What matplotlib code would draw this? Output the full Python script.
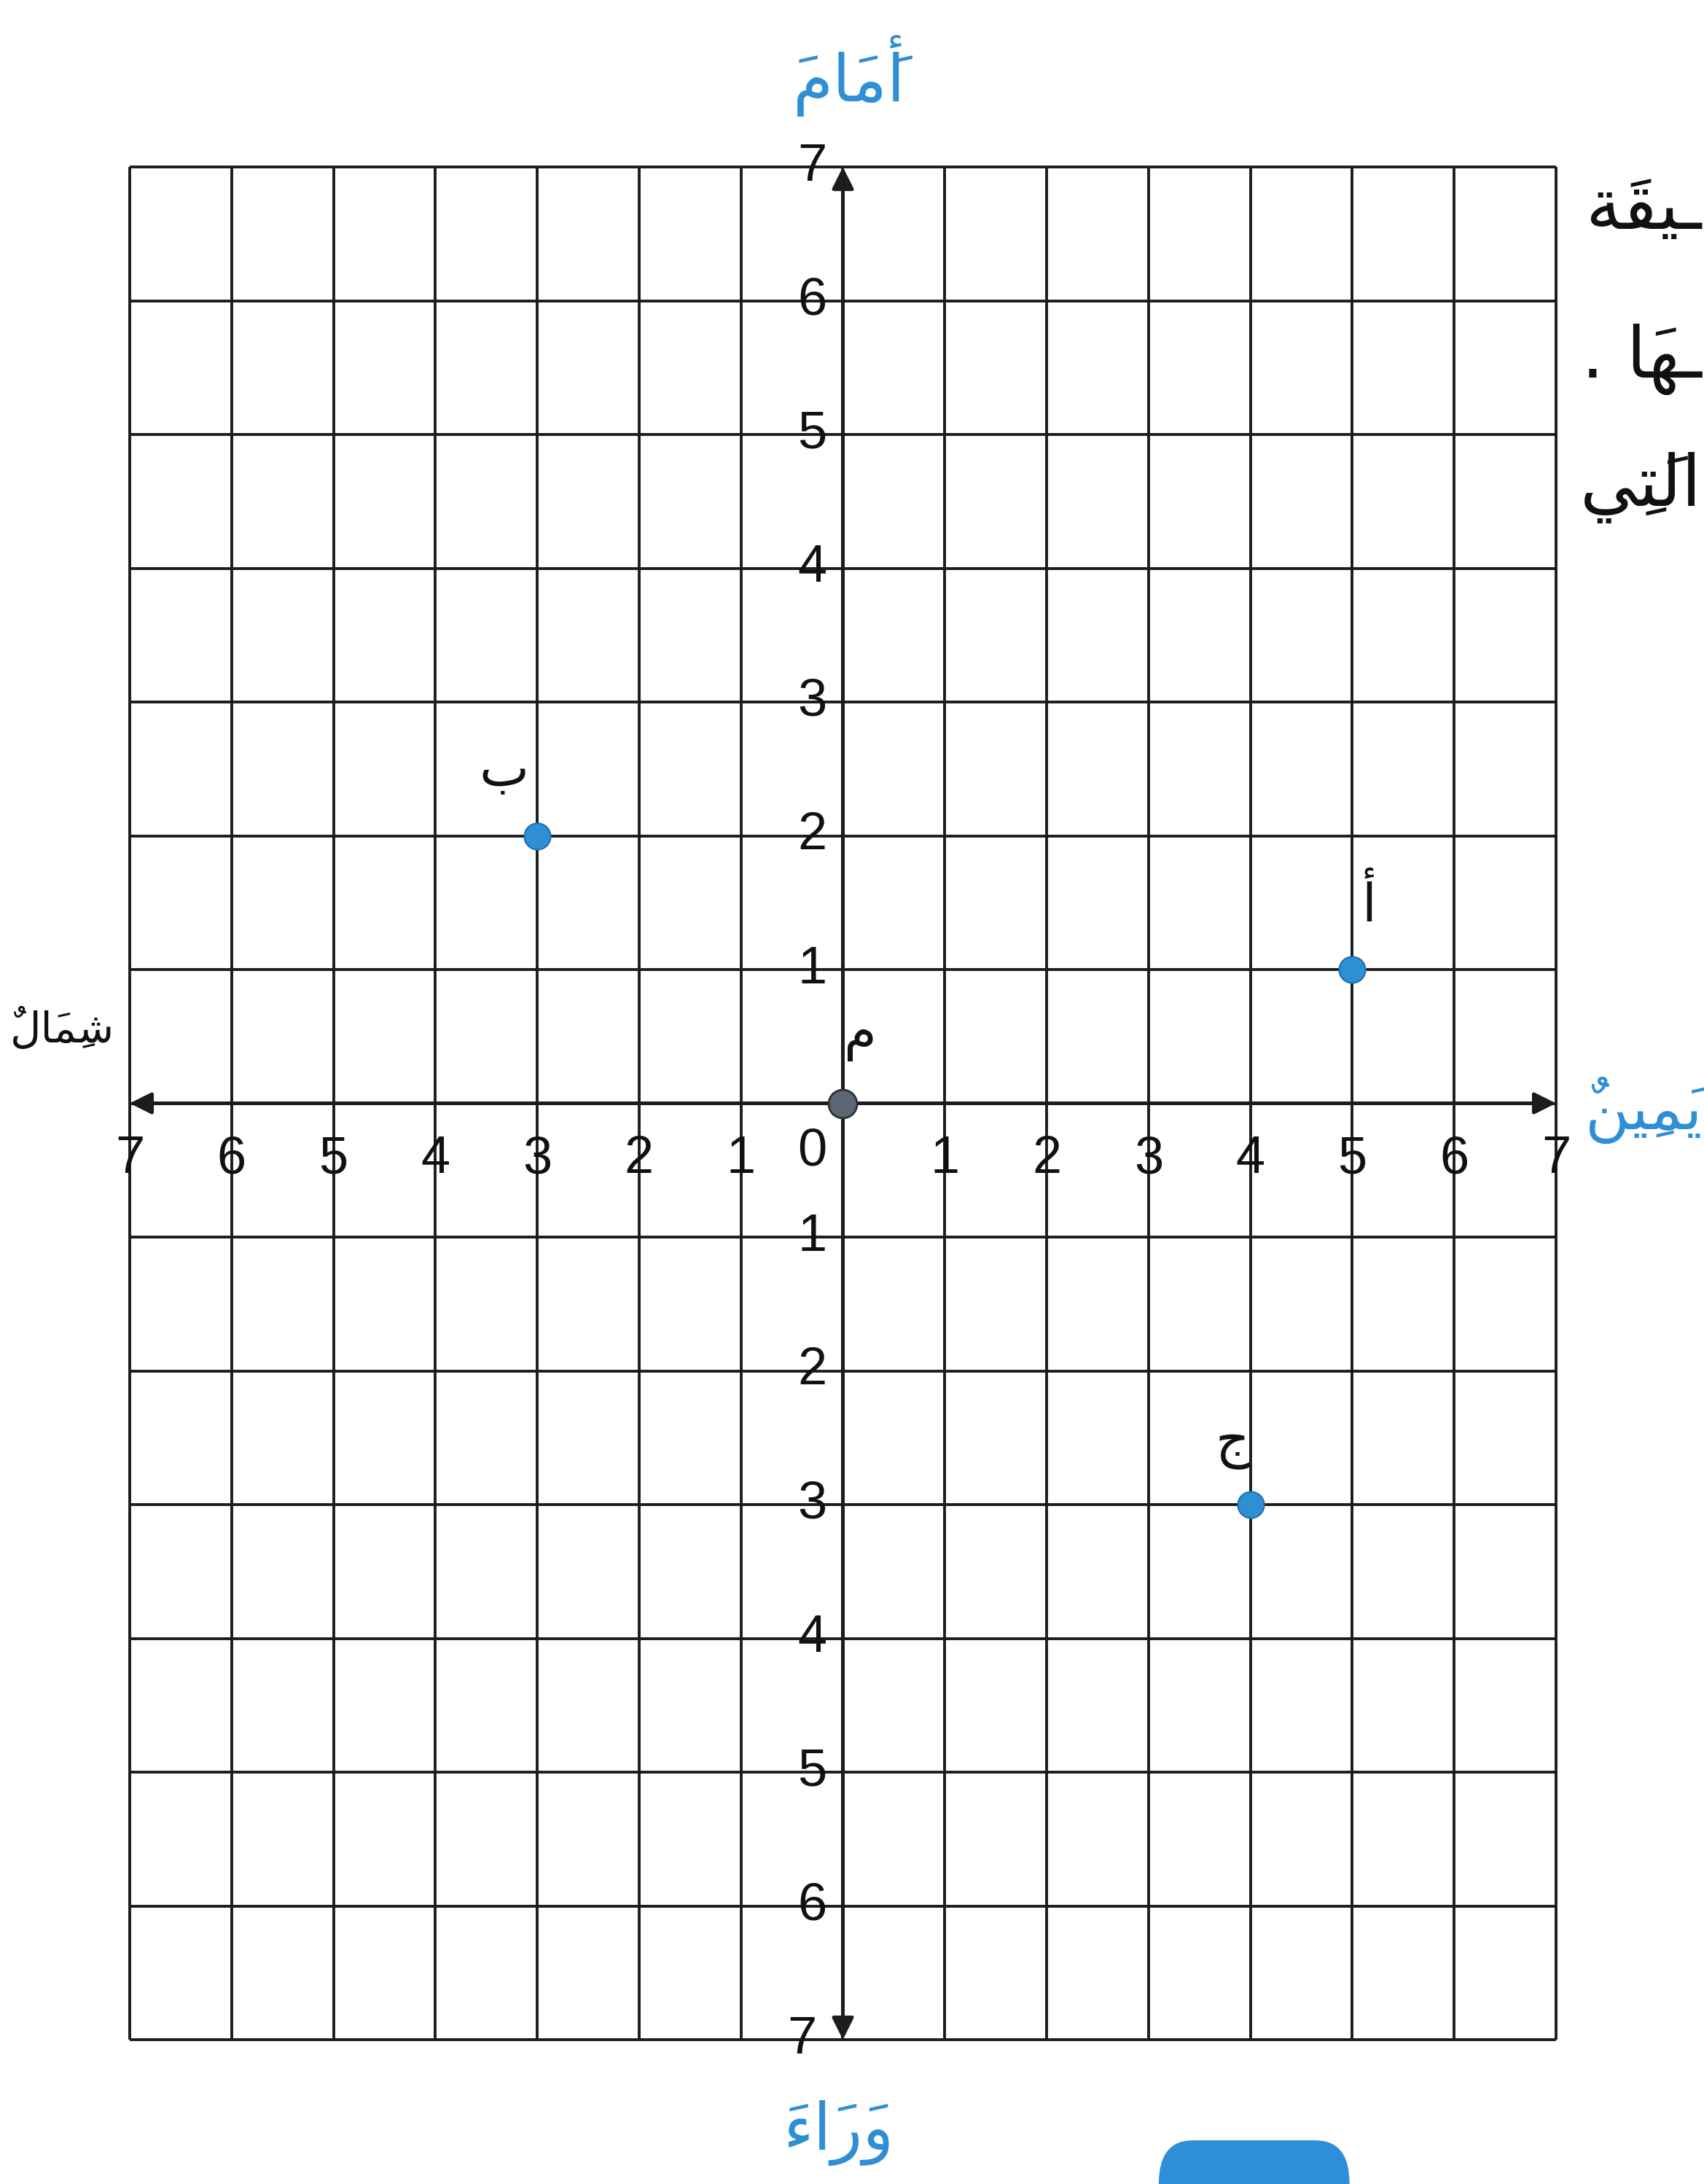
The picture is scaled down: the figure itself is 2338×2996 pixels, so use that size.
import matplotlib.pyplot as plt
from matplotlib.patches import FancyBboxPatch

# grid range and tick labels (numbers printed without sign, as in the book)
grid_vals = list(range(-7, 8))
x_tick_vals = [v for v in grid_vals if v != 0]
x_tick_labels = [str(abs(v)) for v in x_tick_vals]
y_tick_vals = [v for v in grid_vals if v != 0]
y_tick_labels = [str(abs(v)) for v in y_tick_vals]

# points (Arabic letters written with presentation forms, visual order)
pt_x = [-3, 5, 4]
pt_y = [2, 1, -3]
pt_names = ['\uFE8F', '\uFE83', '\uFE9D']          # ب  أ  ج
pt_label_dx = [-0.33, 0.16, -0.18]
pt_label_dy = [0.48, 0.48, 0.45]
origin_name = '\uFEE1'                              # م

# direction words (visual left-to-right order, marks placed before their base)
FATHA, KASRA, DAMMATAN = '\u064E', '\u0650', '\u064C'
lbl_front = FATHA + '\uFEE1\uFE8E' + FATHA + '\uFEE3' + FATHA + '\uFE83'          # أَمَامَ
lbl_back = FATHA + '\uFE80\uFE8D' + FATHA + '\uFEAD' + FATHA + '\uFEED'           # وَرَاءَ
lbl_right = DAMMATAN + '\uFEE6\uFEF4' + KASRA + '\uFEE4' + FATHA + '\uFEF3'      # يَمِينٌ
lbl_left = DAMMATAN + '\uFEDD\uFE8E' + FATHA + '\uFEE4' + KASRA + '\uFEB7'       # شِمَالٌ

# text cut off at the right edge of the page
side_text = ['\uFE94' + FATHA + '\uFED8\uFEF4\u0640',          # ـيقَة
             '. \uFE8E' + FATHA + '\uFEEC\u0640',              # ـهَا .
             '\uFEF2' + KASRA + '\uFE98' + FATHA + '\uFEDF\uFE8D']  # الَتِي
side_y = [6.68, 5.56, 4.60]

ar_font = 'DejaVu Sans'
num_font = 'Liberation Sans'
blue = '#2f8fd4'
line_col = '#1c1c1c'

fig = plt.figure(figsize=(23.38, 29.96), dpi=100)
ax = fig.add_axes([0, 0, 1, 1])
ax.set_xlim(-8.273, 8.452)
ax.set_ylim(-8.079, 8.248)
ax.axis('off')

# grid
ax.vlines(grid_vals, -7, 7, color=line_col, linewidth=2.8, zorder=1)
ax.hlines(grid_vals, -7, 7, color=line_col, linewidth=2.8, zorder=1)

# axes with arrow heads
ax.annotate('', xy=(0, 7), xytext=(0, -7),
            arrowprops=dict(arrowstyle='<|-|>', color=line_col, lw=3.6,
                            mutation_scale=45, shrinkA=0, shrinkB=0), zorder=2)
ax.annotate('', xy=(7, 0), xytext=(-7, 0),
            arrowprops=dict(arrowstyle='<|-|>', color=line_col, lw=3.6,
                            mutation_scale=45, shrinkA=0, shrinkB=0), zorder=2)

# tick numbers
for v, t in zip(x_tick_vals, x_tick_labels):
    ax.text(v, -0.42, t, ha='center', va='center', fontsize=52,
            family=num_font, color='#111111', zorder=3)
ax.text(-0.3, -0.36, '0', ha='center', va='center', fontsize=52,
        family=num_font, color='#111111', zorder=3)
for v, t in zip(y_tick_vals, y_tick_labels):
    dx = -0.4 if v == -7 else -0.3
    ax.text(dx, v, t, ha='center', va='center', fontsize=52,
            family=num_font, color='#111111', zorder=3)

# points
ax.plot(pt_x, pt_y, 'o', markersize=26, color=blue,
        markeredgecolor='#1f6fb0', markeredgewidth=1.5, zorder=4)
for x, y, n, dx, dy in zip(pt_x, pt_y, pt_names, pt_label_dx, pt_label_dy):
    ax.text(x + dx, y + dy, n, ha='center', va='center', fontsize=52,
            family=ar_font, color='#111111', zorder=4)
ax.plot([0], [0], 'o', markersize=28, color='#5c6673',
        markeredgecolor='#2a2f36', markeredgewidth=2, zorder=4)
ax.text(0.17, 0.5, origin_name, ha='center', va='center', fontsize=52,
        family=ar_font, color='#111111', zorder=4)

# direction words
ax.text(0.06, 7.68, lbl_front, ha='center', va='center', fontsize=64,
        family=ar_font, color=blue)
ax.text(-0.04, -7.7, lbl_back, ha='center', va='center', fontsize=64,
        family=ar_font, color=blue)
ax.text(8.43, -0.05, lbl_right, ha='right', va='center', fontsize=60,
        family=ar_font, color=blue)
ax.text(-7.66, 0.55, lbl_left, ha='center', va='center', fontsize=42,
        family=ar_font, color='#111111')

for t, y in zip(side_text, side_y):
    ax.text(8.43, y, t, ha='right', va='center', fontsize=70,
            family=ar_font, color='#111111')

# blue button peeking from the bottom edge
fig.patches.append(FancyBboxPatch((0.680, -0.02), 0.112, 0.04,
                                  boxstyle='round,pad=0,rounding_size=0.02',
                                  transform=fig.transFigure,
                                  facecolor='#2e8fd8', edgecolor='none'))

fig.savefig('out.png', dpi=100, facecolor='white')
